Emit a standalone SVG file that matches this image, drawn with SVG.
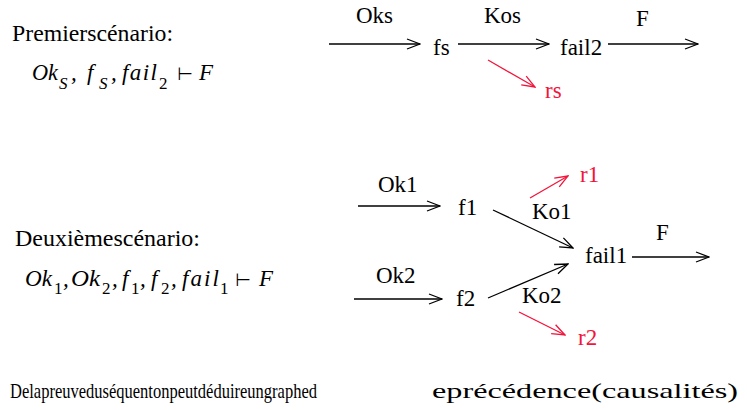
<svg xmlns="http://www.w3.org/2000/svg" width="747" height="410" viewBox="0 0 747 410" font-family="Liberation Serif, Times New Roman, Times, DejaVu Serif, serif">
<style>
text{font-family:'Liberation Serif','Times New Roman',Times,'DejaVu Serif',serif;font-size:23px;fill:#000}
.red{fill:#f2153b}
.math{font-style:italic}
.sub{font-size:17px}
.sym{font-family:'DejaVu Sans',sans-serif;font-size:18px}
.edge{stroke:#000;stroke-width:1.3;fill:none;marker-end:url(#ah)}
.redge{stroke:#f2153b;stroke-width:1.3;fill:none;marker-end:url(#ahr)}
</style>
<defs>
<marker id="ah" viewBox="-14 -6 15 12" markerWidth="15" markerHeight="12" markerUnits="userSpaceOnUse" refX="0" refY="0" orient="auto">
<path d="M-13,-5 L0,0 L-13,5" fill="none" stroke="#000" stroke-width="1.3"/>
</marker>
<marker id="ahr" viewBox="-14 -6 15 12" markerWidth="15" markerHeight="12" markerUnits="userSpaceOnUse" refX="0" refY="0" orient="auto">
<path d="M-13,-5 L0,0 L-13,5" fill="none" stroke="#f2153b" stroke-width="1.3"/>
</marker>
</defs>
<rect width="747" height="410" fill="#fff"/>

<g id="titles">
<text x="12" y="41" textLength="161" lengthAdjust="spacingAndGlyphs">Premierscénario:</text>
<text x="15" y="246" textLength="185" lengthAdjust="spacingAndGlyphs">Deuxièmescénario:</text>
<text x="10" y="398" style="font-size:22px" textLength="307" lengthAdjust="spacingAndGlyphs">Delapreuveduséquentonpeutdéduireungraphed</text>
<text x="432" y="398" style="font-size:22px" textLength="306" lengthAdjust="spacingAndGlyphs">eprécédence(causalités)</text>
</g>

<g id="formula1">
<text x="32" y="80" class="math" textLength="26" lengthAdjust="spacingAndGlyphs">Ok</text>
<text x="59" y="89" class="math sub">S</text>
<text x="71" y="80" class="math">,</text>
<text x="87" y="80" class="math">f</text>
<text x="99" y="89" class="math sub">S</text>
<text x="111" y="80" class="math">,</text>
<text x="122" y="80" class="math" textLength="35" lengthAdjust="spacing">fail</text>
<text x="159" y="89" class="sub">2</text>
<text x="177" y="80" class="sym">⊢</text>
<text x="199" y="80" class="math">F</text>
</g>

<g id="formula2">
<text x="25" y="286" class="math" textLength="27" lengthAdjust="spacingAndGlyphs">Ok</text>
<text x="54" y="294" class="sub">1</text>
<text x="63" y="286" class="math">,</text>
<text x="71" y="286" class="math" textLength="29" lengthAdjust="spacingAndGlyphs">Ok</text>
<text x="102" y="294" class="sub">2</text>
<text x="112" y="286" class="math">,</text>
<text x="122" y="286" class="math">f</text>
<text x="131" y="294" class="sub">1</text>
<text x="140" y="286" class="math">,</text>
<text x="151" y="286" class="math">f</text>
<text x="161" y="294" class="sub">2</text>
<text x="171" y="286" class="math">,</text>
<text x="182" y="286" class="math" textLength="37" lengthAdjust="spacing">fail</text>
<text x="220" y="294" class="sub">1</text>
<text x="235" y="286" class="sym">⊢</text>
<text x="259" y="286" class="math">F</text>
</g>

<g id="node-fs"><text x="433" y="55">fs</text></g>
<g id="node-fail2"><text x="560" y="55">fail2</text></g>
<g id="node-rs"><text x="545" y="98" class="red">rs</text></g>
<g id="node-f1"><text x="458" y="215">f1</text></g>
<g id="node-f2"><text x="456" y="306">f2</text></g>
<g id="node-fail1"><text x="585" y="263">fail1</text></g>
<g id="node-r1"><text x="580" y="182" class="red">r1</text></g>
<g id="node-r2"><text x="578" y="345" class="red">r2</text></g>

<g id="connectors">
<line class="edge" x1="329" y1="44" x2="420" y2="44"/>
<line class="edge" x1="458" y1="44" x2="549" y2="44"/>
<line class="edge" x1="608" y1="44" x2="698" y2="44"/>
<line class="redge" x1="488" y1="60" x2="535" y2="87"/>
<line class="edge" x1="358" y1="206" x2="440" y2="206"/>
<line class="edge" x1="354" y1="299" x2="442" y2="299"/>
<line class="edge" x1="493" y1="210" x2="573" y2="248"/>
<line class="edge" x1="488" y1="298" x2="568" y2="264"/>
<line class="edge" x1="632" y1="257" x2="709" y2="257"/>
<line class="redge" x1="530" y1="198" x2="568" y2="176"/>
<line class="redge" x1="519" y1="312" x2="565" y2="335"/>
<text x="356" y="23">Oks</text>
<text x="484" y="23">Kos</text>
<text x="636" y="26">F</text>
<text x="378" y="192">Ok1</text>
<text x="376" y="283">Ok2</text>
<text x="532" y="219">Ko1</text>
<text x="522" y="303">Ko2</text>
<text x="656" y="240">F</text>
</g>
</svg>
